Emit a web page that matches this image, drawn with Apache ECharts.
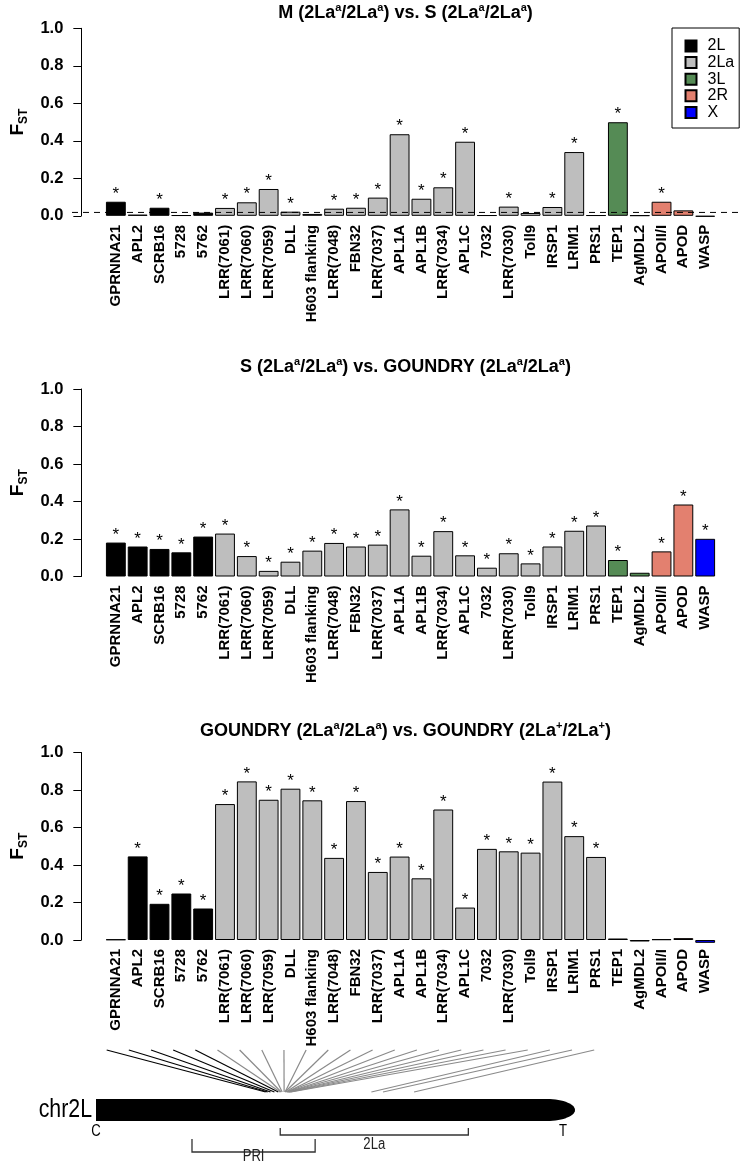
<!DOCTYPE html>
<html><head><meta charset="utf-8">
<script src="https://cdn.jsdelivr.net/npm/echarts@6/dist/echarts.min.js"></script>
<style>html,body{margin:0;padding:0;background:#fff}#c{width:740px;height:1163px}</style>
</head><body><div id="c"></div>
<script>
// ---------------- data ----------------
const genes = ['GPRNNA21','APL2','SCRB16','5728','5762','LRR(7061)','LRR(7060)','LRR(7059)','DLL','H603 flanking','LRR(7048)','FBN32','LRR(7037)','APL1A','APL1B','LRR(7034)','APL1C','7032','LRR(7030)','Toll9','IRSP1','LRIM1','PRS1','TEP1','AgMDL2','APOII/I','APOD','WASP'];
const geneGroup = ['2L','2L','2L','2L','2L','2La','2La','2La','2La','2La','2La','2La','2La','2La','2La','2La','2La','2La','2La','2La','2La','2La','2La','3L','3L','2R','2R','X'];
const groups = ['2L','2La','3L','2R','X'];
const fstTicks = ['0.0','0.2','0.4','0.6','0.8','1.0'];

const fstMvsS = [0.075,0.006,0.043,0.003,0.017,0.042,0.072,0.143,0.022,0.010,0.038,0.043,0.097,0.435,0.091,0.152,0.395,0.003,0.049,0.015,0.047,0.340,0.003,0.499,0.002,0.075,0.029,-0.005];
const sigMvsS = [1,0,1,0,0,1,1,1,1,0,1,1,1,1,1,1,1,0,1,0,1,1,0,1,0,1,0,0];
const refLineMvsS = 0.018;

const fstSvsG = [0.181,0.160,0.147,0.129,0.213,0.229,0.109,0.030,0.079,0.138,0.179,0.160,0.170,0.358,0.111,0.242,0.113,0.047,0.124,0.070,0.160,0.244,0.272,0.088,0.020,0.134,0.384,0.201];
const sigSvsG = [1,1,1,1,1,1,1,1,1,1,1,1,1,1,1,1,1,1,1,1,1,1,1,1,0,1,1,1];

const fstGvsG = [0.003,0.446,0.193,0.248,0.168,0.725,0.846,0.748,0.807,0.745,0.438,0.741,0.363,0.445,0.329,0.696,0.173,0.486,0.473,0.466,0.845,0.554,0.443,0.008,-0.008,0.004,0.010,-0.015];
const sigGvsG = [0,1,1,1,1,1,1,1,1,1,1,1,1,1,1,1,1,1,1,1,1,1,1,0,0,0,0,0];

// chromosome 2L map (Mb)
const chromName = 'chr2L';
const chromLength = 49.4;
const geneChromPos = [17.5,17.7,18.0,18.4,18.8,19.0,19.1,19.2,19.4,19.5,19.5,19.6,19.7,19.7,19.8,19.8,19.9,19.9,20.0,20.1,28.4,29.6,32.8];
const regionNames = ['2La','PRI'];
const regionStart = [19.0, 9.9];
const regionEnd = [38.4, 22.6];

const panelTitles = [
  '{b|M (2La}{s|a}{b|/2La}{s|a}{b|) vs. S (2La}{s|a}{b|/2La}{s|a}{b|)}',
  '{b|S (2La}{s|a}{b|/2La}{s|a}{b|) vs. GOUNDRY (2La}{s|a}{b|/2La}{s|a}{b|)}',
  '{b|GOUNDRY (2La}{s|a}{b|/2La}{s|a}{b|) vs. GOUNDRY (2La}{s|+}{b|/2La}{s|+}{b|)}'
];

// ---------------- styling ----------------
const FONT = "'Liberation Sans', Arial, Helvetica, sans-serif";
const groupColor = {'2L':'#000000','2La':'#bebebe','3L':'#558b55','2R':'#e3806f','X':'#0000ff'};
const barLeft = 95.6, barWidthTotal = 620.5;
const panelTops = [28.3, 389, 752.5];
const panelH = 187.5;
const titleY = [13, 367, 731];
const NARROW_SCALE = 0.82;

const chart = echarts.init(document.getElementById('c'));

const grids = [], xAxes = [], yAxes = [], series = [];
const panels = [
  {vals: fstMvsS, sig: sigMvsS},
  {vals: fstSvsG, sig: sigSvsG},
  {vals: fstGvsG, sig: sigGvsG}
];

panels.forEach((p, k) => {
  const gi = grids.length;
  grids.push({left: barLeft, width: barWidthTotal, top: panelTops[k], height: panelH});
  xAxes.push({type:'category', gridIndex: gi, data: genes,
    axisLine:{show:false}, axisTick:{show:false},
    axisLabel:{interval:0, rotate:90, fontSize:15, fontWeight:'bold', color:'#000', fontFamily: FONT, margin:9}});
  yAxes.push({type:'value', gridIndex: gi, min:0, max:1, interval:0.2, offset: barLeft - 72,
    axisLine:{show:true, lineStyle:{color:'#000', width:1}},
    axisTick:{show:true, length:8, lineStyle:{color:'#000', width:1}},
    splitLine:{show:false},
    axisLabel:{fontSize:16.5, fontWeight:'bold', color:'#000', fontFamily: FONT, margin:18,
      formatter: v => fstTicks[Math.round(v/0.2)]},
    name:'{f|F}{s|ST}', nameLocation:'middle', nameRotate:90, nameGap:46,
    nameTextStyle:{rich:{
      f:{fontSize:19, fontWeight:'bold', fontFamily: FONT, color:'#000', lineHeight:24},
      s:{fontSize:12, fontWeight:'bold', fontFamily: FONT, color:'#000', lineHeight:12, verticalAlign:'bottom'}
    }}});
  const xi = xAxes.length - 1, yi = yAxes.length - 1;
  groups.forEach(g => {
    series.push({type:'bar', name: g, xAxisIndex: xi, yAxisIndex: yi, stack: 'panel' + k, clip:false,
      barCategoryGap:'9.1%', animation:false,
      itemStyle:{color: groupColor[g], borderColor:'#000', borderWidth:1},
      emphasis:{disabled:true},
      label:{show:true, position:'top', distance:-1, fontSize:17, color:'#000', fontFamily: FONT,
        formatter: prm => p.sig[prm.dataIndex] ? '*' : ''},
      data: p.vals.map((v, i) => geneGroup[i] === g ? v : '-')});
  });
  if (k === 0) {
    // overlay grid for the dashed reference line across the full plot region
    const go = grids.length;
    grids.push({left: 72, right: 0, top: panelTops[k], height: panelH});
    xAxes.push({type:'value', gridIndex: go, min:0, max:1, show:false});
    yAxes.push({type:'value', gridIndex: go, min:0, max:1, show:false});
    series.push({type:'line', xAxisIndex: xAxes.length-1, yAxisIndex: yAxes.length-1, z:5,
      symbol:'none', silent:true, animation:false,
      lineStyle:{color:'#000', width:1, type:[6,5]},
      data: [[0, refLineMvsS], [1, refLineMvsS]]});
  }
});

// connector grid (aligned with the bar categories)
const gConn = grids.length;
grids.push({left: barLeft, width: barWidthTotal, top: 1050, height: 42});
xAxes.push({type:'category', gridIndex: gConn, data: genes, show:false});
const xConn = xAxes.length - 1;
yAxes.push({type:'value', gridIndex: gConn, min:0, max:1, show:false});
const yConn = yAxes.length - 1;

// chromosome grid (Mb)
const gChr = grids.length;
grids.push({left: 96, width: 479, top: 1099, height: 22});
xAxes.push({type:'value', gridIndex: gChr, min:0, max: chromLength, show:false});
const xChr = xAxes.length - 1;
yAxes.push({type:'value', gridIndex: gChr, min:0, max:1, show:false});
const yChr = yAxes.length - 1;

series.push({type:'custom', xAxisIndex: xConn, yAxisIndex: yConn, silent:true, animation:false,
  data: geneChromPos.map((mb, i) => [i, mb]),
  renderItem: (params, api) => {
    const i = api.value(0), mb = api.value(1);
    const top = api.coord([i, 1]);
    const bot = api.coord([i, 0]);
    const bx = chart.convertToPixel({xAxisIndex: xChr}, mb);
    return {type:'line', shape:{x1: top[0], y1: top[1], x2: bx, y2: bot[1]},
      style:{stroke: geneGroup[i] === '2L' ? '#000' : '#8a8a8a', lineWidth:1.2}};
  }});

function narrowText(txt, x, y, size, align, fill) {
  return {type:'text', x: x, y: y, scaleX: NARROW_SCALE,
    style:{text: txt, align: align, verticalAlign:'middle', fontSize: size, fontFamily: FONT, fill: fill}};
}

series.push({type:'custom', xAxisIndex: xChr, yAxisIndex: yChr, silent:true, animation:false,
  data: [[0, chromLength]],
  renderItem: (params, api) => {
    const x0 = api.coord([api.value(0), 1])[0];
    const x1 = api.coord([api.value(1), 1])[0];
    const yT = api.coord([0, 1])[1], yB = api.coord([0, 0])[1];
    const rx = 28, ry = (yB - yT) / 2, cy = (yT + yB) / 2;
    const pts = [[x0, yT], [x1 - rx, yT]];
    for (let s = 0; s <= 30; s++) {
      const t = -Math.PI / 2 + Math.PI * s / 30;
      pts.push([x1 - rx + rx * Math.cos(t), cy + ry * Math.sin(t)]);
    }
    pts.push([x0, yB]);
    return {type:'group', children:[
      {type:'polygon', shape:{points: pts}, style:{fill:'#000'}},
      narrowText(chromName, x0 - 4, cy, 26, 'right', '#000'),
      narrowText('C', x0, yB + 11, 16, 'center', '#000'),
      narrowText('T', x1 - 12, yB + 11, 16, 'center', '#000')
    ]};
  }});

series.push({type:'custom', xAxisIndex: xChr, yAxisIndex: yChr, silent:true, animation:false,
  data: regionNames.map((n, i) => [regionStart[i], regionEnd[i], i]),
  renderItem: (params, api) => {
    const lvl = api.value(2);
    const xa = api.coord([api.value(0), 0])[0];
    const xb = api.coord([api.value(1), 0])[0];
    const yB = api.coord([0, 0])[1];
    const tickTop = yB + (lvl === 0 ? 7 : 18);
    const base = yB + (lvl === 0 ? 14 : 31);
    const labY = yB + (lvl === 0 ? 24 : 36);
    return {type:'group', children:[
      {type:'polyline', shape:{points:[[xa, tickTop],[xa, base],[xb, base],[xb, tickTop]]}, style:{stroke:'#333', lineWidth:1.3, fill:null}},
      narrowText(regionNames[params.dataIndex], (xa + xb) / 2, labY, 16, 'center', '#222')
    ]};
  }});

const titleRich = {
  b:{fontSize:18, fontWeight:'bold', fontFamily: FONT, fill:'#000', lineHeight:22},
  s:{fontSize:11, fontWeight:'bold', fontFamily: FONT, fill:'#000', lineHeight:11, verticalAlign:'top'}
};

chart.setOption({
  animation:false,
  backgroundColor:'#fff',
  grid: grids,
  xAxis: xAxes,
  yAxis: yAxes,
  legend:{data: groups, orient:'vertical', left:672, top:28, padding:[10,5,7.6,12.5],
    itemGap:0.6, itemWidth:11, itemHeight:11, icon:'rect', borderColor:'#000', borderWidth:1,
    selectedMode:false,
    textStyle:{fontSize:16, color:'#000', fontFamily: FONT, lineHeight:11, padding:[0,0,0,6]}},
  graphic: panelTitles.map((t, k) => ({type:'text', x:405.5, y: titleY[k],
    style:{text: t, rich: titleRich, align:'center', verticalAlign:'middle'}})),
  series: series
});
</script></body></html>
